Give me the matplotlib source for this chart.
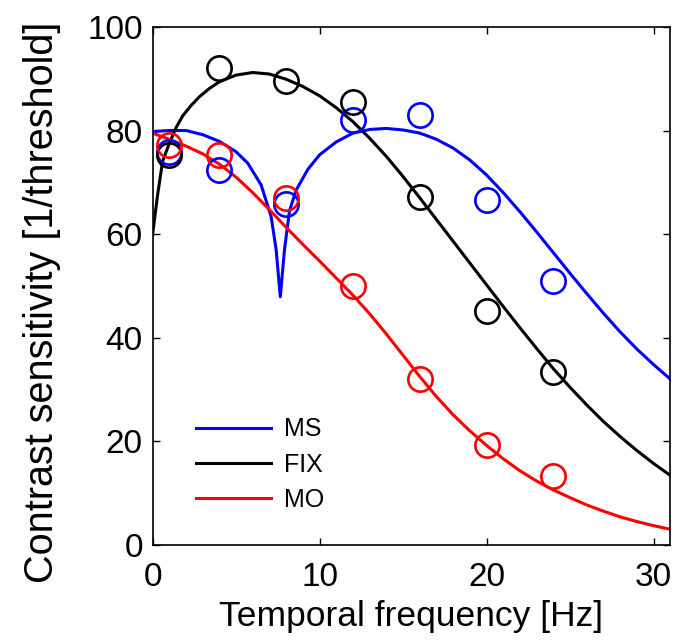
import matplotlib
matplotlib.use("Agg")
import matplotlib.pyplot as plt

plt.rcParams["font.family"] = ["Liberation Sans", "DejaVu Sans"]

# measured thresholds (open circles)
freq_pts = [1, 4, 8, 12, 16, 20, 24]
ms_pts = [75.9, 72.4, 65.8, 82.0, 83.0, 66.6, 51.0]
fix_pts = [75.3, 92.0, 89.6, 85.5, 67.2, 45.2, 33.4]
mo_pts = [77.2, 75.3, 67.0, 50.0, 32.0, 19.2, 13.3]

# fitted curves
ms_fx = [0, 1, 2, 3, 4, 5, 5.7, 6.5, 7.1, 7.4, 7.65, 7.9, 8.2, 8.6, 9.3, 10, 11, 12, 13, 14,
         15, 16, 17, 18, 19, 20, 21, 22, 23, 24, 25, 26, 27, 28, 29, 30, 31]
ms_fy = [79.8, 80.0, 80.0, 79.2, 77.9, 75.9, 73.7, 69.5, 63.4, 57.0, 47.9, 57.0, 64.5, 68.5, 72.5,
         75.3, 77.8, 79.5, 80.2, 80.4, 80.1, 79.5, 78.3, 76.6, 74.3, 71.4, 68.0, 64.3, 60.4, 56.4,
         52.4, 48.5, 44.7, 41.1, 37.8, 34.8, 32.0]

fix_fx = [0, 0.3, 0.6, 1, 1.4, 1.8, 2.3, 2.8, 3.4, 4, 5, 6, 7, 8, 9, 10, 11, 12, 13, 14, 15, 16,
          17, 18, 19, 20, 21, 22, 23, 24, 25, 26, 27, 28, 29, 30, 31]
fix_fy = [59.8, 67.5, 74.0, 77.5, 80.5, 82.8, 84.8, 86.5, 88.1, 89.4, 90.7, 91.2, 90.9, 89.9, 88.5,
          86.7, 84.4, 81.7, 78.5, 75.0, 71.1, 67.0, 62.8, 58.6, 54.4, 50.2, 46.0, 41.9, 37.9, 34.0,
          30.4, 27.0, 23.8, 20.9, 18.2, 15.7, 13.4]

mo_fx = list(range(0, 32))
mo_fy = [79.5, 78.3, 77.0, 75.5, 73.5, 71.0, 68.0, 64.7, 61.3, 58.0, 54.8, 51.5, 48.2, 44.6, 40.7,
         36.6, 32.5, 28.6, 25.1, 22.0, 19.2, 16.6, 14.3, 12.3, 10.6, 9.1, 7.7, 6.5, 5.4, 4.5, 3.7, 3.0]

series = [("MS", "#0000ff", ms_fx, ms_fy, ms_pts),
          ("FIX", "#000000", fix_fx, fix_fy, fix_pts),
          ("MO", "#ff0000", mo_fx, mo_fy, mo_pts)]

fig = plt.figure(figsize=(6.84, 6.41), dpi=100)
ax = fig.add_axes([0.223, 0.150, 0.757, 0.808])

for name, col, fx, fy, pts in series:
    ax.plot(fx, fy, color=col, lw=2.2, label=name, zorder=2)
    ax.plot(freq_pts, pts, "o", ms=17.5, mfc="none", mec=col, mew=1.9, zorder=3)

ax.set_xlim(0, 31)
ax.set_ylim(0, 100)
ax.set_xticks([0, 10, 20, 30])
ax.set_yticks([0, 20, 40, 60, 80, 100])
ax.tick_params(direction="in", top=True, right=True, length=5, width=1, labelsize=24)
ax.tick_params(axis="x", pad=12.5)
ax.tick_params(axis="y", pad=7)
for s in ax.spines.values():
    s.set_linewidth(1.2)
ax.set_xlabel("Temporal frequency [Hz]", fontsize=25.5, labelpad=5)
ax.set_ylabel("Contrast sensitivity [1/threshold]", fontsize=28.5)
ax.yaxis.set_label_coords(-0.177, 0.468)

ax.legend(loc="lower left", bbox_to_anchor=(0.04, 0.02), frameon=False, fontsize=18,
          handlelength=3.0, handletextpad=0.55, labelspacing=0.45)

fig.savefig("out.png", dpi=100)
